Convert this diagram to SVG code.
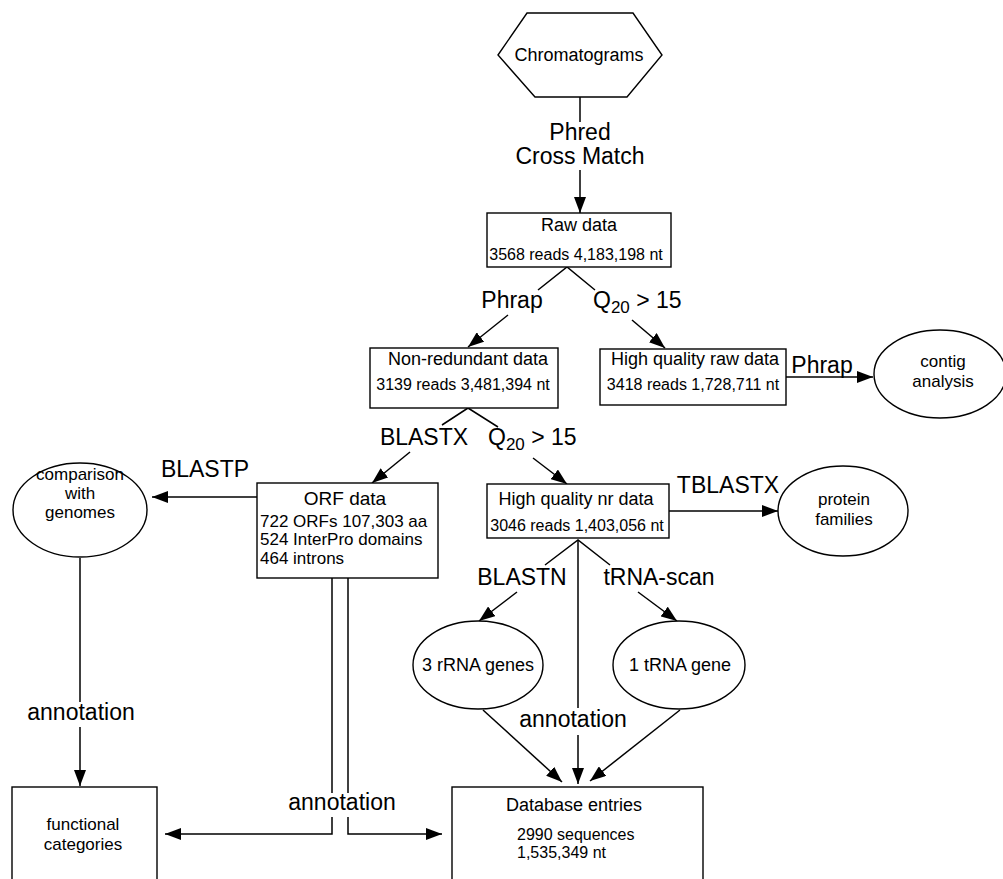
<svg xmlns="http://www.w3.org/2000/svg" width="1003" height="879" viewBox="0 0 1003 879">
<defs>
<marker id="ah" markerUnits="userSpaceOnUse" markerWidth="16" markerHeight="12" refX="16" refY="6" orient="auto">
<path d="M0,0 L16,6 L0,12 z" fill="#000"/>
</marker>
<style>
.n{fill:#fff;stroke:#000;stroke-width:1.4}
.c{fill:none;stroke:#000;stroke-width:1.5}
.a{fill:none;stroke:#000;stroke-width:1.5;marker-end:url(#ah)}
text{font-family:"Liberation Sans",Arial,sans-serif;fill:#000}
.lb{font-size:23px;text-anchor:middle}
.h{font-size:18px;text-anchor:middle}
.s{font-size:16px;text-anchor:middle}
.e{font-size:18px;text-anchor:middle}
.e2{font-size:17px;text-anchor:middle}
.o{font-size:17px}
</style>
</defs>
<rect width="1003" height="879" fill="#fff"/>
<g id="connectors">
<line class="c" x1="580" y1="97" x2="580" y2="122"/>
<line class="a" x1="580" y1="170" x2="580" y2="213"/>
<text class="lb" x="580" y="140">Phred</text>
<text class="lb" x="580" y="164">Cross Match</text>
<polyline class="c" points="538,290 567,267 595,290"/>
<line class="a" x1="508" y1="315" x2="468" y2="347"/>
<line class="a" x1="632" y1="320" x2="665" y2="348"/>
<text class="lb" x="512" y="308">Phrap</text>
<text style="font-size:23px" x="593" y="308">Q<tspan font-size="17" dy="5">20</tspan><tspan dy="-5"> &gt; 15</tspan></text>
<line class="a" x1="786" y1="377" x2="873" y2="377"/>
<text class="lb" x="822" y="373">Phrap</text>
<polyline class="c" points="442,425 468,408 498,427"/>
<line class="a" x1="410" y1="452" x2="372" y2="483"/>
<line class="a" x1="533" y1="458" x2="567" y2="484"/>
<text class="lb" x="424" y="445">BLASTX</text>
<text style="font-size:23px" x="488" y="445">Q<tspan font-size="17" dy="5">20</tspan><tspan dy="-5"> &gt; 15</tspan></text>
<line class="a" x1="257" y1="497" x2="152" y2="497"/>
<text class="lb" x="205" y="477">BLASTP</text>
<line class="a" x1="669" y1="511" x2="778" y2="511"/>
<text class="lb" x="728" y="493">TBLASTX</text>
<line class="c" x1="80" y1="558" x2="80" y2="702"/>
<line class="a" x1="80" y1="727" x2="80" y2="786"/>
<text class="lb" x="81" y="720">annotation</text>
<line class="c" x1="332" y1="578" x2="332" y2="793"/>
<line class="c" x1="348" y1="578" x2="348" y2="793"/>
<polyline class="a" points="332,817 332,834 165,834"/>
<polyline class="a" points="348,817 348,834 442,834"/>
<text class="lb" x="342" y="810">annotation</text>
<polyline class="c" points="545,565 578,540 610,565"/>
<line class="c" x1="578" y1="540" x2="578" y2="708"/>
<line class="a" x1="578" y1="735" x2="578" y2="784"/>
<text class="lb" x="573" y="727">annotation</text>
<line class="a" x1="517" y1="592" x2="479" y2="621"/>
<line class="a" x1="638" y1="592" x2="677" y2="621"/>
<text class="lb" x="522" y="585">BLASTN</text>
<text class="lb" x="659" y="585">tRNA-scan</text>
<line class="a" x1="483" y1="710" x2="562" y2="782"/>
<line class="a" x1="680" y1="710" x2="590" y2="781"/>
</g>
<g id="chromatograms">
<polygon class="n" points="498,55 527,13 633,13 662,55 627,97 535,97"/>
<text class="h" x="579" y="61">Chromatograms</text>
</g>
<g id="raw-data">
<rect class="n" x="487" y="213" width="184" height="54"/>
<text class="h" x="579" y="231">Raw data</text>
<text class="s" x="576" y="260">3568 reads 4,183,198 nt</text>
</g>
<g id="non-redundant">
<rect class="n" x="370" y="348" width="188" height="60"/>
<text class="h" x="468" y="365">Non-redundant data</text>
<text class="s" x="463" y="390">3139 reads 3,481,394 nt</text>
</g>
<g id="hq-raw">
<rect class="n" x="600" y="349" width="186" height="56"/>
<text class="h" x="695" y="365">High quality raw data</text>
<text class="s" x="693" y="390">3418 reads 1,728,711 nt</text>
</g>
<g id="contig">
<ellipse class="n" cx="940" cy="374" rx="66" ry="44"/>
<text class="e2" x="943" y="367">contig</text>
<text class="e2" x="943" y="387">analysis</text>
</g>
<g id="orf-data">
<rect class="n" x="257" y="483" width="181" height="95"/>
<text class="h" x="345" y="505" style="font-size:19px">ORF data</text>
<text class="o" x="260" y="527">722 ORFs 107,303 aa</text>
<text class="o" x="260" y="545">524 InterPro domains</text>
<text class="o" x="260" y="564">464 introns</text>
</g>
<g id="comparison">
<ellipse class="n" cx="80" cy="510" rx="67" ry="47"/>
<text class="e2" x="80" y="480">comparison</text>
<text class="e2" x="80" y="499">with</text>
<text class="e2" x="80" y="518">genomes</text>
</g>
<g id="hq-nr">
<rect class="n" x="487" y="484" width="182" height="54"/>
<text class="h" x="576" y="505">High quality nr data</text>
<text class="s" x="577" y="531">3046 reads 1,403,056 nt</text>
</g>
<g id="protein-families">
<ellipse class="n" cx="843" cy="511" rx="65" ry="45"/>
<text class="e2" x="844" y="505">protein</text>
<text class="e2" x="844" y="525">families</text>
</g>
<g id="rrna">
<ellipse class="n" cx="478" cy="665" rx="65" ry="44"/>
<text class="e" x="478" y="671">3 rRNA genes</text>
</g>
<g id="trna">
<ellipse class="n" cx="679" cy="665" rx="66" ry="44"/>
<text class="e" x="680" y="671">1 tRNA gene</text>
</g>
<g id="functional-categories">
<rect class="n" x="12" y="787" width="145" height="100"/>
<text class="e2" x="83" y="830">functional</text>
<text class="e2" x="83" y="850">categories</text>
</g>
<g id="database-entries">
<rect class="n" x="452" y="787" width="251" height="100"/>
<text class="e" x="574" y="811">Database entries</text>
<text style="font-size:16px" x="517" y="840">2990 sequences</text>
<text style="font-size:16px" x="517" y="858">1,535,349 nt</text>
</g>
</svg>
